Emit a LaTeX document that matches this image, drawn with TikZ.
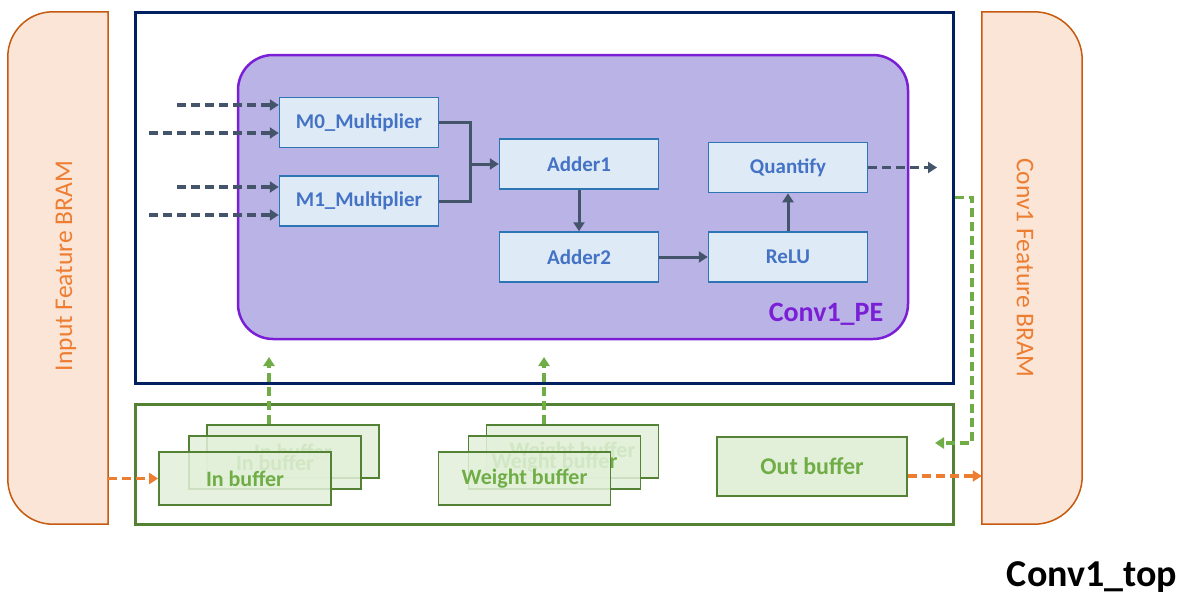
\documentclass[tikz,border=0pt]{standalone}
\usepackage{fontspec}
\setmainfont{Carlito}
\usetikzlibrary{arrows.meta}
\definecolor{navy}{HTML}{002060}
\definecolor{bramfill}{HTML}{FBE5D6}
\definecolor{bramline}{HTML}{C55A11}
\definecolor{bramtext}{HTML}{ED7D31}
\definecolor{pefill}{HTML}{BAB3E6}
\definecolor{peline}{HTML}{7B1FD6}
\definecolor{blkfill}{HTML}{DEEBF7}
\definecolor{blkline}{HTML}{2E75B6}
\definecolor{blktext}{HTML}{4472C4}
\definecolor{wire}{HTML}{44546A}
\definecolor{bufline}{HTML}{548235}
\definecolor{buffill}{HTML}{E2F0D9}
\definecolor{buftext}{HTML}{70AD47}
\newcommand{\fsz}[1]{\fontsize{#1}{#1}\selectfont}

\begin{document}
\begin{tikzpicture}[x=1pt,y=-1pt,
 blk/.style={draw=blkline,fill=blkfill,text=blktext,line width=1.5pt,minimum width=159pt,minimum height=50pt,inner sep=0pt,font=\bfseries\fsz{21}},
 buf/.style={draw=bufline,fill=buffill,fill opacity=0.85,text opacity=1,text=buftext,line width=1.8pt,minimum width=172pt,minimum height=53pt,inner sep=0pt,font=\bfseries\fsz{22}},
 bram/.style={draw=bramline,fill=bramfill,line width=1.5pt},
 wr/.style={draw=wire,line width=3pt,-{Triangle[length=9pt,width=11pt]}},
 ds/.style={line width=3.5pt,dash pattern=on 9pt off 5pt,-{Triangle[length=9pt,width=11pt]}}]
\useasboundingbox (0,0) rectangle (1192,605);
\node[minimum width=100pt,minimum height=512pt,inner sep=0pt] (inBRAM) at (58,268) {};
\draw[bram] (inBRAM.north east) [rounded corners=45pt] -- (inBRAM.north west) -- (inBRAM.south west) [sharp corners] -- (inBRAM.south east) -- cycle;
\node[rotate=90,text=bramtext,font=\fsz{25.5}] (inLbl) at (66,266) {Input Feature BRAM};
\node[minimum width=100pt,minimum height=512pt,inner sep=0pt] (outBRAM) at (1032,268) {};
\draw[bram] (outBRAM.north west) [rounded corners=48pt] -- (outBRAM.north east) -- (outBRAM.south east) [sharp corners] -- (outBRAM.south west) -- cycle;
\node[rotate=-90,text=bramtext,font=\fsz{25.5}] (outLbl) at (1025,268) {Conv1 Feature BRAM};
\node[draw=navy,line width=3pt,minimum width=818pt,minimum height=371pt] (top) at (544,197.5) {};
\node[draw=bufline,line width=3pt,minimum width=818pt,minimum height=120pt] (bot) at (544,464) {};
\node[draw=peline,fill=pefill,line width=2.5pt,rounded corners=35pt,minimum width=670pt,minimum height=284pt] (PE) at (573,197) {};
\node[text=peline,font=\bfseries\fsz{28}] (peLbl) at (826,314) {Conv1\_PE};

\node[blk] (M0) at (359,122.5) {M0\_Multiplier};
\node[blk] (M1) at (359,201) {M1\_Multiplier};
\node[blk] (Adder1) at (579,164) {Adder1};
\node[blk] (Adder2) at (579,257) {Adder2};
\node[blk] (ReLU) at (788,257) {ReLU};
\node[blk] (Quantify) at (788,167.5) {Quantify};

\foreach \y/\x/\t [count=\k] in {105/177/M0,133/149/M0,187/177/M1,215/149/M1}{ \coordinate (in\k) at (\x,\y); \draw[ds,draw=wire] (in\k) -- (\t.west |- in\k); }
\coordinate (j) at (470,164);
\draw[draw=wire,line width=3pt] (M0.east) -| (j) |- (M1.east);
\draw[wr] (j) -- (Adder1.west);
\draw[wr] (Adder1) -- (Adder2);
\draw[wr] (Adder2) -- (ReLU);
\draw[wr] (ReLU) -- (Quantify);
\coordinate (qo) at (937,167.5);
\draw[ds,draw=wire] (Quantify.east) -- (qo);

\foreach \n/\x/\y in {inC/293/451.5,inB/275/462.5,inA/245/478.5}{ \node[buf] (\n) at (\x,\y) {In buffer}; }
\foreach \n/\x/\y in {wC/572.5/451.5,wB/554.5/462.5,wA/524.5/478.5}{ \node[buf] (\n) at (\x,\y) {Weight buffer}; }
\node[buf,fill opacity=1,minimum width=190pt,minimum height=59pt,font=\bfseries\fsz{24}] (outB) at (812,466.5) {Out buffer};

\coordinate (pi) at (269,357);
\coordinate (pw) at (544,357);
\draw[ds,draw=buftext] (pi |- inC.north) -- (pi);
\draw[ds,draw=buftext] (pw |- wC.north) -- (pw);
\coordinate (gc) at (972,443);
\coordinate (gt) at (935,443);
\draw[ds,draw=buftext] (top.east) -| (gc) -- (gt);
\draw[ds,draw=bramtext] (inA.west -| inBRAM.east) -- (inA.west);
\coordinate (oo) at ([yshift=-9.5pt]outB.east);
\draw[ds,draw=bramtext] (oo) -- (oo -| outBRAM.west);

\node[font=\bfseries\fsz{38}] (topLbl) at (1092,577) {Conv1\_top};
\end{tikzpicture}
\end{document}
